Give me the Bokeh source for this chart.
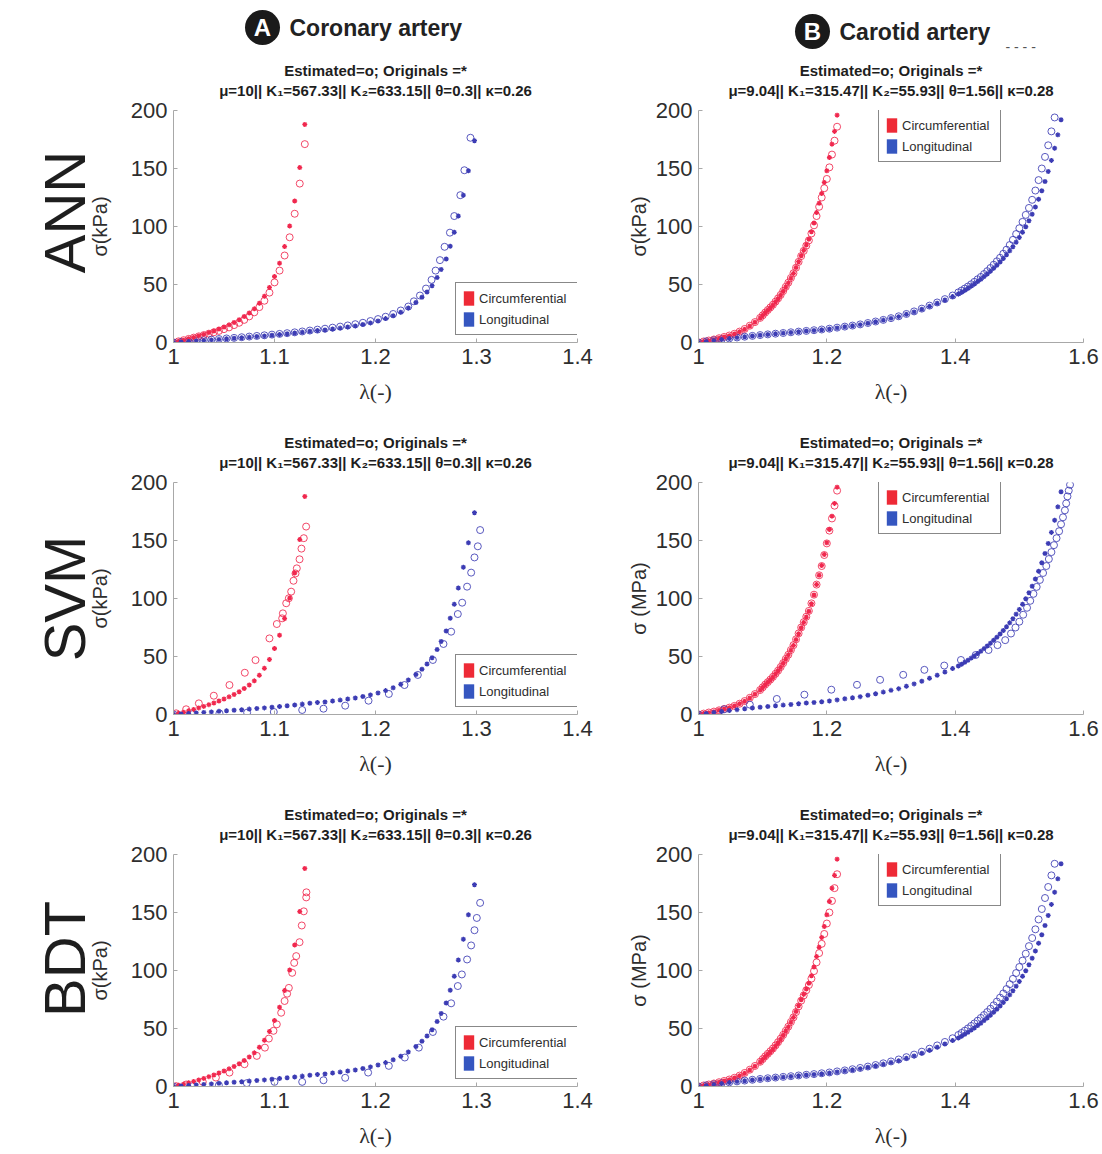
import math
from bokeh.plotting import figure
from bokeh.models import Range1d, FixedTicker, Title, Legend, LegendItem
from bokeh.layouts import column, row
from bokeh.embed import file_html
from bokeh.resources import INLINE
from bokeh.core.properties import value

# ---------------- data ----------------
ROW_NAMES = ["ANN", "SVM", "BDT"]
COL_HEADS = ["Coronary artery", "Carotid artery"]
COL_LETTERS = ["A", "B"]
TITLE_1 = "Estimated=o; Originals =*"
TITLE_2_COR = "\u03bc=10|| K\u2081=567.33|| K\u2082=633.15|| \u03b8=0.3|| \u03ba=0.26"
TITLE_2_CAR = "\u03bc=9.04|| K\u2081=315.47|| K\u2082=55.93|| \u03b8=1.56|| \u03ba=0.28"
LEGEND_LABELS = ["Circumferential", "Longitudinal"]
X_LABEL = "\u03bb(-)"
Y_LABEL_COR = ["\u03c3(kPa)", "\u03c3(kPa)", "\u03c3(kPa)"]
Y_LABEL_CAR = ["\u03c3(kPa)", "\u03c3 (MPa)", "\u03c3 (MPa)"]
X_TICKS_COR = [1, 1.1, 1.2, 1.3, 1.4]
X_TICK_LABELS_COR = ["1", "1.1", "1.2", "1.3", "1.4"]
X_TICKS_CAR = [1, 1.2, 1.4, 1.6]
X_TICK_LABELS_CAR = ["1", "1.2", "1.4", "1.6"]
Y_TICKS = [0, 50, 100, 150, 200]

# Coronary artery - circumferential (originals)
COR_C_LAM = [1.000, 1.005, 1.010, 1.015, 1.020, 1.025, 1.030, 1.035, 1.040, 1.045,
             1.050, 1.055, 1.060, 1.065, 1.070, 1.075, 1.080, 1.085, 1.090, 1.095,
             1.100, 1.105, 1.110, 1.115, 1.120, 1.125, 1.130]
COR_C_ORIG = [0.0, 1.0, 2.0, 3.2, 4.4, 5.7, 7.0, 8.5, 10.0, 11.6,
              13.3, 15.2, 17.3, 19.7, 22.4, 25.5, 29.0, 33.8, 39.8, 47.5,
              56.9, 68.4, 82.7, 100.4, 122.0, 150.8, 188.0]
# Coronary artery - longitudinal (originals)
COR_L_LAM = [1.000, 1.0075, 1.015, 1.0225, 1.030, 1.0375, 1.045, 1.0525, 1.060, 1.0675,
             1.075, 1.0825, 1.090, 1.0975, 1.105, 1.1125, 1.120, 1.1275, 1.135, 1.1425,
             1.150, 1.1575, 1.165, 1.1725, 1.180, 1.1875, 1.195, 1.2025, 1.210, 1.2175,
             1.225, 1.2325, 1.240, 1.246, 1.251, 1.256, 1.261, 1.265, 1.270, 1.274,
             1.278, 1.282, 1.287, 1.292, 1.298]
COR_L_ORIG = [0.0, 0.45, 0.9, 1.35, 1.8, 2.25, 2.7, 3.2, 3.7, 4.15,
              4.65, 5.2, 5.7, 6.3, 6.9, 7.5, 8.2, 8.95, 9.75, 10.4,
              10.8, 11.6, 12.4, 13.3, 14.3, 15.5, 16.9, 18.6, 20.6, 23.0,
              26.0, 29.8, 34.5, 39.0, 43.5, 49.0, 56.0, 63.0, 72.0, 83.0,
              95.0, 109.0, 127.0, 148.0, 174.0]

# Coronary estimated - ANN
COR_ANN_C_LAM = COR_C_LAM
COR_ANN_C_EST = [0.0, 1.0, 2.0, 3.1, 4.2, 5.3, 6.4, 7.6, 8.8, 10.0,
                 11.5, 13.0, 15.0, 17.0, 19.5, 22.5, 26.0, 30.5, 36.0, 43.0,
                 51.8, 62.0, 75.0, 90.7, 111.0, 137.0, 171.0]
COR_ANN_L_LAM = [1.000, 1.0075, 1.015, 1.0225, 1.030, 1.0375, 1.045, 1.0525, 1.060, 1.0675,
                 1.075, 1.0825, 1.090, 1.0975, 1.105, 1.1125, 1.120, 1.1275, 1.135, 1.1425,
                 1.150, 1.1575, 1.165, 1.1725, 1.180, 1.1875, 1.195, 1.2025, 1.210, 1.2175,
                 1.225, 1.2325, 1.238, 1.244, 1.250, 1.2555, 1.2595, 1.2638, 1.2684, 1.2737,
                 1.278, 1.284, 1.288, 1.294]
COR_ANN_L_EST = [0.0, 0.5, 1.0, 1.5, 2.0, 2.5, 3.0, 3.5, 4.0, 4.55,
                 5.1, 5.65, 6.2, 6.8, 7.4, 8.05, 8.75, 9.5, 10.3, 11.1,
                 11.9, 12.8, 13.7, 14.7, 15.8, 17.0, 18.5, 20.2, 22.2, 24.6,
                 27.6, 31.0, 35.5, 40.5, 46.5, 54.0, 62.0, 71.0, 82.5, 94.7,
                 109.0, 127.0, 148.5, 176.5]
# Coronary estimated - SVM
COR_SVM_C_LAM = [1.0026, 1.0125, 1.0251, 1.0399, 1.0554, 1.0706, 1.0812, 1.0950, 1.1023, 1.1076,
                 1.1083, 1.1116, 1.1142, 1.1165, 1.1188, 1.1208, 1.1221, 1.1248, 1.1267, 1.1290,
                 1.1313]
COR_SVM_C_EST = [1.0, 4.5, 9.6, 16.2, 25.4, 36.0, 46.9, 65.6, 78.0, 82.9,
                 87.2, 95.9, 100.2, 105.9, 115.3, 121.6, 126.0, 133.8, 143.0, 152.0,
                 162.0]
COR_SVM_L_LAM = [1.000, 1.0191, 1.0455, 1.0729, 1.0993, 1.1274, 1.1485, 1.1700, 1.1931, 1.2132,
                 1.2287, 1.2419, 1.2568, 1.2673, 1.2749, 1.2815, 1.2858, 1.2907, 1.2947, 1.2980,
                 1.3013, 1.3036]
COR_SVM_L_EST = [0.0, 0.4, 1.0, 1.6, 2.2, 3.9, 5.0, 7.6, 11.9, 17.7,
                 25.4, 34.1, 47.0, 60.8, 71.4, 86.6, 96.4, 110.2, 122.3, 135.4,
                 145.0, 159.0]
# Coronary estimated - BDT
COR_BDT_C_LAM = [1.0026, 1.0125, 1.029, 1.042, 1.0554, 1.0703, 1.0825, 1.0905, 1.0944, 1.0990,
                 1.1023, 1.1066, 1.1100, 1.1125, 1.1142, 1.1175, 1.1195, 1.1215, 1.1248, 1.1270,
                 1.1290, 1.1314, 1.1316]
COR_BDT_C_EST = [0.3, 1.7, 4.0, 7.7, 12.0, 19.2, 26.4, 33.5, 41.3, 48.0,
                 53.6, 63.6, 73.7, 80.0, 85.0, 98.0, 106.6, 112.4, 124.4, 138.8,
                 151.0, 163.0, 167.4]
COR_BDT_L_LAM = [1.000, 1.019, 1.0449, 1.0726, 1.100, 1.1274, 1.1485, 1.170, 1.1927, 1.2132,
                 1.229, 1.2429, 1.2568, 1.2673, 1.2749, 1.2815, 1.2855, 1.2907, 1.2947, 1.298,
                 1.3003, 1.3036]
COR_BDT_L_EST = [0.0, 0.3, 1.1, 2.9, 4.0, 4.0, 5.4, 7.5, 12.0, 17.8,
                 25.0, 33.5, 47.0, 60.2, 71.7, 86.6, 96.6, 109.5, 121.6, 134.7,
                 145.3, 158.3]

# Carotid artery - circumferential (originals)
CAR_C_LAM = [1.000, 1.008, 1.016, 1.024, 1.032, 1.040, 1.048, 1.056, 1.064, 1.072,
             1.080, 1.088, 1.096, 1.100, 1.104, 1.108, 1.112, 1.116, 1.120, 1.124,
             1.128, 1.132, 1.136, 1.140, 1.144, 1.148, 1.152, 1.156, 1.160, 1.164,
             1.168, 1.172, 1.176, 1.180, 1.184, 1.188, 1.192, 1.196, 1.200, 1.204,
             1.208, 1.212, 1.216]
CAR_C_ORIG = [0.0, 0.8, 1.6, 2.4, 3.6, 4.7, 5.8, 7.3, 9.2, 11.5,
              14.3, 17.5, 21.0, 23.3, 25.7, 27.8, 30.0, 32.2, 35.0, 37.7,
              40.8, 44.2, 47.8, 51.4, 55.5, 59.6, 64.6, 69.7, 74.8, 79.4,
              84.0, 89.0, 95.5, 103.0, 112.0, 120.0, 128.5, 138.0, 148.0, 159.5,
              171.0, 182.0, 196.0]
# Carotid artery - longitudinal (originals)
CAR_L_LAM = [1.000, 1.012, 1.024, 1.036, 1.048, 1.060, 1.072, 1.084, 1.096, 1.108,
             1.120, 1.132, 1.144, 1.156, 1.168, 1.180, 1.192, 1.204, 1.216, 1.228,
             1.240, 1.252, 1.264, 1.276, 1.288, 1.300, 1.312, 1.324, 1.336, 1.348,
             1.360, 1.372, 1.384, 1.396, 1.405, 1.410, 1.415, 1.420, 1.425, 1.430,
             1.435, 1.440, 1.445, 1.450, 1.455, 1.460, 1.465, 1.470, 1.475, 1.480,
             1.485, 1.490, 1.495, 1.500, 1.505, 1.510, 1.515, 1.520, 1.525, 1.530,
             1.535, 1.540, 1.545, 1.550, 1.555, 1.560, 1.565]
CAR_L_ORIG = [0.0, 0.9, 1.8, 2.6, 3.4, 4.2, 4.9, 5.6, 6.3, 6.9,
              7.5, 8.1, 8.7, 9.3, 9.9, 10.4, 11.0, 11.7, 12.6, 13.5,
              14.4, 15.4, 16.6, 17.9, 19.3, 20.8, 22.3, 24.3, 26.4, 28.7,
              31.2, 33.8, 36.6, 39.6, 41.8, 43.3, 45.0, 46.8, 48.6, 50.5,
              52.5, 54.6, 56.8, 59.1, 61.5, 64.0, 66.6, 69.4, 72.4, 75.6,
              79.0, 82.6, 86.5, 90.6, 95.0, 99.8, 105.0, 110.6, 116.8, 123.5,
              130.8, 138.8, 147.5, 157.0, 167.5, 179.0, 192.0]

# Carotid estimated - ANN
CAR_ANN_C_LAM = CAR_C_LAM
CAR_ANN_C_EST = [0.0, 0.9, 1.7, 2.6, 3.7, 4.8, 6.0, 7.5, 9.4, 11.7,
                 14.5, 17.6, 21.2, 23.4, 25.8, 28.0, 30.2, 32.5, 35.2, 38.0,
                 41.0, 44.4, 48.0, 51.6, 55.6, 59.7, 64.5, 69.5, 74.5, 79.0,
                 83.5, 88.0, 94.0, 101.0, 109.0, 117.0, 125.0, 133.0, 141.0, 151.0,
                 162.0, 174.0, 186.0]
CAR_ANN_L_LAM = [1.000, 1.012, 1.024, 1.036, 1.048, 1.060, 1.072, 1.084, 1.096, 1.108,
                 1.120, 1.132, 1.144, 1.156, 1.168, 1.180, 1.192, 1.204, 1.216, 1.228,
                 1.240, 1.252, 1.264, 1.276, 1.288, 1.300, 1.312, 1.324, 1.336, 1.348,
                 1.360, 1.372, 1.384, 1.396, 1.405, 1.410, 1.415, 1.420, 1.425, 1.430,
                 1.435, 1.440, 1.445, 1.450, 1.455, 1.460, 1.465, 1.470, 1.475, 1.480,
                 1.485, 1.490, 1.495, 1.500, 1.505, 1.510, 1.515, 1.520, 1.525, 1.530,
                 1.535, 1.540, 1.545, 1.550, 1.555]
CAR_ANN_L_EST = [0.0, 1.0, 1.9, 2.7, 3.5, 4.3, 5.0, 5.7, 6.4, 7.0,
                 7.6, 8.2, 8.8, 9.4, 10.0, 10.6, 11.2, 11.9, 12.8, 13.7,
                 14.6, 15.6, 16.8, 18.1, 19.5, 21.0, 22.6, 24.6, 26.8, 29.2,
                 31.8, 34.5, 37.4, 40.5, 43.2, 44.8, 46.5, 48.3, 50.2, 52.3,
                 54.5, 56.5, 59.0, 61.5, 64.2, 67.0, 70.0, 73.0, 76.5, 80.0,
                 84.0, 88.5, 93.5, 98.5, 104.0, 110.0, 116.0, 123.0, 131.0, 140.0,
                 150.0, 160.0, 170.0, 182.0, 194.0]
# Carotid estimated - SVM
CAR_SVM_C_LAM = CAR_C_LAM
CAR_SVM_C_EST = [0.0, 0.8, 1.7, 2.5, 3.6, 4.8, 5.9, 7.4, 9.3, 11.6,
                 14.4, 17.6, 21.1, 23.4, 25.8, 27.9, 30.1, 32.4, 35.1, 37.8,
                 40.9, 44.3, 47.9, 51.5, 55.6, 59.8, 64.8, 69.9, 75.0, 79.6,
                 84.3, 89.3, 95.8, 103.3, 112.0, 120.0, 128.0, 137.5, 147.5, 158.5,
                 169.0, 180.0, 193.0]
CAR_SVM_L_LAM = [1.000, 1.040, 1.080, 1.122, 1.165, 1.207, 1.247, 1.283, 1.319, 1.352,
                 1.383, 1.409, 1.432, 1.452, 1.466, 1.478, 1.487, 1.494, 1.500, 1.506,
                 1.512, 1.517, 1.522, 1.527, 1.532, 1.537, 1.542, 1.546, 1.550, 1.554,
                 1.558, 1.562, 1.565, 1.568, 1.571, 1.573, 1.575, 1.577, 1.579]
CAR_SVM_L_EST = [0.0, 4.5, 8.5, 13.4, 17.1, 21.4, 25.6, 29.9, 34.2, 38.5,
                 42.2, 47.0, 51.3, 55.6, 59.8, 64.1, 69.8, 75.0, 80.0, 86.0,
                 92.0, 98.0, 104.0, 110.0, 116.0, 122.0, 128.0, 134.0, 140.0, 146.0,
                 152.0, 158.0, 164.0, 170.0, 176.0, 182.0, 188.0, 193.0, 198.0]
# Carotid estimated - BDT
CAR_BDT_C_LAM = CAR_C_LAM
CAR_BDT_C_EST = [0.0, 0.9, 1.7, 2.6, 3.7, 4.8, 6.0, 7.5, 9.4, 11.7,
                 14.5, 17.7, 21.3, 23.6, 26.0, 28.2, 30.4, 32.7, 35.4, 38.2,
                 41.2, 44.5, 48.0, 51.6, 55.6, 59.6, 64.2, 69.0, 74.0, 78.5,
                 83.0, 87.5, 93.0, 99.5, 107.0, 115.0, 123.0, 131.5, 140.5, 150.0,
                 160.0, 171.0, 183.0]
CAR_BDT_L_LAM = CAR_ANN_L_LAM
CAR_BDT_L_EST = [0.0, 1.0, 1.9, 2.8, 3.6, 4.4, 5.1, 5.8, 6.5, 7.1,
                 7.7, 8.3, 8.9, 9.5, 10.1, 10.7, 11.4, 12.1, 13.0, 13.9,
                 14.9, 16.0, 17.2, 18.5, 20.0, 21.6, 23.3, 25.3, 27.5, 30.0,
                 32.6, 35.4, 38.4, 41.6, 44.4, 46.2, 48.1, 50.1, 52.2, 54.4,
                 56.7, 59.1, 61.6, 64.2, 67.0, 70.0, 73.2, 76.6, 80.2, 84.0,
                 88.2, 92.8, 97.8, 103.0, 108.5, 114.5, 121.0, 128.0, 135.5, 144.0,
                 153.0, 162.5, 172.0, 182.0, 192.0]

COR_EST = [(COR_ANN_C_LAM, COR_ANN_C_EST, COR_ANN_L_LAM, COR_ANN_L_EST),
           (COR_SVM_C_LAM, COR_SVM_C_EST, COR_SVM_L_LAM, COR_SVM_L_EST),
           (COR_BDT_C_LAM, COR_BDT_C_EST, COR_BDT_L_LAM, COR_BDT_L_EST)]
CAR_EST = [(CAR_ANN_C_LAM, CAR_ANN_C_EST, CAR_ANN_L_LAM, CAR_ANN_L_EST),
           (CAR_SVM_C_LAM, CAR_SVM_C_EST, CAR_SVM_L_LAM, CAR_SVM_L_EST),
           (CAR_BDT_C_LAM, CAR_BDT_C_EST, CAR_BDT_L_LAM, CAR_BDT_L_EST)]

# ---------------- style / layout ----------------
FONT = "Liberation Sans"
SERIF = "Liberation Serif"
RED = "#f0284e"
BLUE = "#3c3cb4"
RED_PATCH = "#ee2a36"
BLUE_PATCH = "#3556c0"
AXIS_COL = "#a8a8a8"
TXT = "#2e2e2e"

HEAD_H = 55
ROW_H = [372, 372, 352]
ROW_BB = [85, 85, 65]
TOP_B = 55
LEFT_W, RIGHT_W = 608, 492
# leading space that nudges the rotated row label upwards (reads bottom-to-top)
ROW_LABEL_PAD = ["\u2002", "", "\u2009\u2009"]
HAS_STANDOFF = "standoff" in Title.properties()


def style_axes(p, xticks, xlabels, ylabel, ylab_so):
    p.xgrid.visible = False
    p.ygrid.visible = False
    p.outline_line_color = None
    for ax in (p.xaxis[0], p.yaxis[0]):
        ax.axis_line_color = AXIS_COL
        ax.major_tick_line_color = AXIS_COL
        ax.minor_tick_line_color = None
        ax.major_tick_in = 4
        ax.major_tick_out = 0
        ax.major_label_text_font = FONT
        ax.major_label_text_font_size = "22px"
        ax.major_label_text_color = TXT
        ax.major_label_standoff = 6
        ax.axis_label_text_color = TXT
        ax.axis_label_text_font_style = "normal"
    p.xaxis.ticker = FixedTicker(ticks=xticks)
    p.xaxis.major_label_overrides = {t: s for t, s in zip(xticks, xlabels)}
    p.yaxis.ticker = FixedTicker(ticks=Y_TICKS)
    p.xaxis.axis_label = X_LABEL
    p.xaxis.axis_label_text_font = SERIF
    p.xaxis.axis_label_text_font_size = "22px"
    p.xaxis.axis_label_standoff = 12
    p.yaxis.axis_label = ylabel
    p.yaxis.axis_label_text_font = FONT
    p.yaxis.axis_label_text_font_size = "20px"
    p.yaxis.axis_label_standoff = ylab_so


def add_title(p, text, standoff, size="15px", side="above", style="bold"):
    kw = {"standoff": standoff} if HAS_STANDOFF else {}
    p.add_layout(Title(text=text, align="center", text_font=FONT,
                       text_font_size=size, text_font_style=style,
                       text_color="#1e1e1e", **kw), side)


def make_panel(w, h, x_end, xticks, xlabels, ylabel, ylab_so, bl, br, bb,
               leg_xy, title2, c_lam, c_orig, l_lam, l_orig, est, row_label=None):
    p = figure(width=w, height=h, x_range=Range1d(1, x_end), y_range=Range1d(0, 200),
               output_backend="svg", toolbar_location=None,
               min_border_left=bl, min_border_right=br, min_border_top=TOP_B,
               min_border_bottom=bb, background_fill_color="white",
               border_fill_color="white")
    style_axes(p, xticks, xlabels, ylabel, ylab_so)
    if HAS_STANDOFF:
        add_title(p, " ", 0, "8px")
    add_title(p, title2, 2)
    add_title(p, TITLE_1, 0)
    if row_label is not None:
        add_title(p, row_label, -22, "58px", "left", "normal")
    ec_lam, ec_val, el_lam, el_val = est
    p.scatter(ec_lam, ec_val, marker="circle", size=7, fill_color=None,
              line_color=RED, line_width=1, line_alpha=0.85)
    p.scatter(el_lam, el_val, marker="circle", size=7, fill_color=None,
              line_color=BLUE, line_width=1, line_alpha=0.85)
    p.scatter(c_lam, c_orig, marker="asterisk", size=5, line_color=RED, line_width=1.3)
    p.scatter(l_lam, l_orig, marker="asterisk", size=5, line_color=BLUE, line_width=1.3)
    # zero-size quads (legend swatches only)
    rr = p.quad(left=c_lam[:1], right=c_lam[:1], top=c_orig[:1], bottom=c_orig[:1],
                fill_color=RED_PATCH, line_color=None)
    bq = p.quad(left=l_lam[:1], right=l_lam[:1], top=l_orig[:1], bottom=l_orig[:1],
                fill_color=BLUE_PATCH, line_color=None)
    leg = Legend(items=[LegendItem(label=LEGEND_LABELS[0], renderers=[rr]),
                        LegendItem(label=LEGEND_LABELS[1], renderers=[bq])],
                 location=leg_xy, margin=0, padding=6, spacing=3,
                 glyph_width=13, glyph_height=18, label_height=18, label_width=92,
                 label_standoff=4, label_text_font=FONT,
                 label_text_font_size="13px", label_text_color=TXT,
                 border_line_color="#111111", border_line_width=1,
                 background_fill_color="white", background_fill_alpha=1)
    p.add_layout(leg)
    return p


# header
HW = LEFT_W + RIGHT_W
hdr = figure(width=HW, height=HEAD_H, x_range=Range1d(0, HW), y_range=Range1d(0, HEAD_H),
             output_backend="svg", toolbar_location=None, min_border=0,
             x_axis_location=None, y_axis_location=None)
hdr.grid.visible = False
hdr.outline_line_color = None
HX = [262, 812]
HY = [HEAD_H - 27, HEAD_H - 31]
hdr.scatter(HX, HY, marker="circle", size=35, fill_color="#1a1a1a", line_color=None)
hdr.text(x=HX, y=HY, text=COL_LETTERS, text_align="center", text_baseline="middle",
         text_font=value(FONT), text_font_size="24px", text_font_style="bold",
         text_color="white")
hdr.text(x=[x + 27 for x in HX], y=HY, text=COL_HEADS, text_align="left",
         text_baseline="middle", text_font=value(FONT), text_font_size="23px",
         text_font_style="bold", text_color="#222222")
hdr.text(x=[1005], y=[HEAD_H - 46], text=["-    -    -    -"], text_align="left",
         text_baseline="middle", text_font=value(FONT), text_font_size="14px",
         text_color="#555555")

rows = [hdr]
for i in range(3):
    h = ROW_H[i]
    pa = make_panel(LEFT_W, h, 1.4, X_TICKS_COR, X_TICK_LABELS_COR, Y_LABEL_COR[i], 17,
                    173, 31, ROW_BB[i], (282, 7), TITLE_2_COR,
                    COR_C_LAM, COR_C_ORIG, COR_L_LAM, COR_L_ORIG, COR_EST[i],
                    ROW_LABEL_PAD[i] + ROW_NAMES[i])
    pb = make_panel(RIGHT_W, h, 1.6, X_TICKS_CAR, X_TICK_LABELS_CAR, Y_LABEL_CAR[i], 3,
                    90, 17, ROW_BB[i], (180, 180), TITLE_2_CAR,
                    CAR_C_LAM, CAR_C_ORIG, CAR_L_LAM, CAR_L_ORIG, CAR_EST[i])
    rows.append(row(pa, pb))

layout = column(*rows)
open("out.html", "w").write(file_html(layout, INLINE))
